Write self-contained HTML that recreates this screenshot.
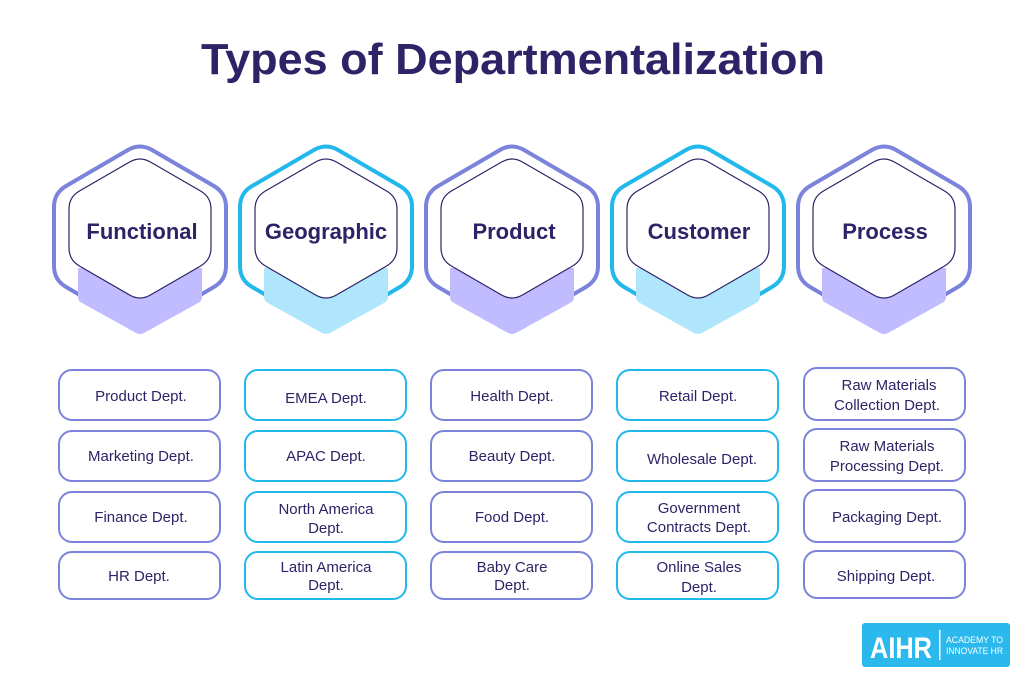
<!DOCTYPE html>
<html><head><meta charset="utf-8"><style>
html,body{margin:0;padding:0;background:#fff;}
svg{display:block;font-family:"Liberation Sans",sans-serif;}
.t{fill:#2d2366;font-size:15px;text-anchor:middle;}
.h{fill:#2d2366;font-size:22px;font-weight:bold;text-anchor:middle;}
</style></head><body>
<svg width="1024" height="680" viewBox="0 0 1024 680">
<text x="513" y="74" fill="#2d2366" font-size="44" font-weight="bold" text-anchor="middle" textLength="624" lengthAdjust="spacingAndGlyphs">Types of Departmentalization</text>
<defs>
<path id="outer" d="M12.1,150 L73.9,186 Q86,193 86,207 L86,266 Q86,280 73.9,287 L12.1,323 Q0,330 -12.1,323 L-73.9,287 Q-86,280 -86,266 L-86,207 Q-86,193 -73.9,186 L-12.1,150 Q0,143 12.1,150 Z"/>
<path id="inner" d="M10.4,162 L60.6,191 Q71,197 71,209 L71,248 Q71,260 60.6,266 L10.4,295 Q0,301 -10.4,295 L-60.6,266 Q-71,260 -71,248 L-71,209 Q-71,197 -60.6,191 L-10.4,162 Q0,156 10.4,162 Z"/>
<path id="shadow" d="M-62,268 L62,268 L62,297 Q62,301 58,303 L4,333 Q0,335 -4,333 L-58,303 Q-62,301 -62,297 Z"/>
<g id="hexP">
<use href="#outer" fill="none" stroke="#7b83db" stroke-width="4"/>
<use href="#shadow" fill="#c0bcff"/>
<use href="#inner" fill="#fff" stroke="#2d2366" stroke-width="1.2"/>
</g>
<g id="hexB">
<use href="#outer" fill="none" stroke="#22b8ec" stroke-width="4"/>
<use href="#shadow" fill="#b0e6fc"/>
<use href="#inner" fill="#fff" stroke="#2d2366" stroke-width="1.2"/>
</g>
</defs>
<use href="#hexP" x="140"/>
<use href="#hexB" x="326"/>
<use href="#hexP" x="512"/>
<use href="#hexB" x="698"/>
<use href="#hexP" x="884"/>
<text class="h" x="142" y="239">Functional</text>
<text class="h" x="326" y="239">Geographic</text>
<text class="h" x="514" y="239">Product</text>
<text class="h" x="699" y="239">Customer</text>
<text class="h" x="885" y="239">Process</text>

<g fill="#fff" stroke-width="2">
<g stroke="#7b83db">
<rect x="59" y="370" width="161" height="50" rx="13"/>
<rect x="59" y="431" width="161" height="50" rx="13"/>
<rect x="59" y="492" width="161" height="50" rx="13"/>
<rect x="59" y="552" width="161" height="47" rx="13"/>
<rect x="431" y="370" width="161" height="50" rx="13"/>
<rect x="431" y="431" width="161" height="50" rx="13"/>
<rect x="431" y="492" width="161" height="50" rx="13"/>
<rect x="431" y="552" width="161" height="47" rx="13"/>
<rect x="804" y="368" width="161" height="52" rx="13"/>
<rect x="804" y="429" width="161" height="52" rx="13"/>
<rect x="804" y="490" width="161" height="52" rx="13"/>
<rect x="804" y="551" width="161" height="47" rx="13"/>
</g>
<g stroke="#22b8ec">
<rect x="245" y="370" width="161" height="50" rx="13"/>
<rect x="245" y="431" width="161" height="50" rx="13"/>
<rect x="245" y="492" width="161" height="50" rx="13"/>
<rect x="245" y="552" width="161" height="47" rx="13"/>
<rect x="617" y="370" width="161" height="50" rx="13"/>
<rect x="617" y="431" width="161" height="50" rx="13"/>
<rect x="617" y="492" width="161" height="50" rx="13"/>
<rect x="617" y="552" width="161" height="47" rx="13"/>
</g>
</g>

<text class="t" x="141" y="401">Product Dept.</text>
<text class="t" x="141" y="461">Marketing Dept.</text>
<text class="t" x="141" y="522">Finance Dept.</text>
<text class="t" x="139" y="581">HR Dept.</text>

<text class="t" x="326" y="403">EMEA Dept.</text>
<text class="t" x="326" y="461">APAC Dept.</text>
<text class="t" x="326" y="514">North America</text>
<text class="t" x="326" y="533">Dept.</text>
<text class="t" x="326" y="572">Latin America</text>
<text class="t" x="326" y="590">Dept.</text>

<text class="t" x="512" y="401">Health Dept.</text>
<text class="t" x="512" y="461">Beauty Dept.</text>
<text class="t" x="512" y="522">Food Dept.</text>
<text class="t" x="512" y="572">Baby Care</text>
<text class="t" x="512" y="590">Dept.</text>

<text class="t" x="698" y="401">Retail Dept.</text>
<text class="t" x="702" y="464">Wholesale Dept.</text>
<text class="t" x="699" y="513">Government</text>
<text class="t" x="699" y="532">Contracts Dept.</text>
<text class="t" x="699" y="572">Online Sales</text>
<text class="t" x="699" y="592">Dept.</text>

<text class="t" x="889" y="390">Raw Materials</text>
<text class="t" x="887" y="410">Collection Dept.</text>
<text class="t" x="887" y="451">Raw Materials</text>
<text class="t" x="887" y="471">Processing Dept.</text>
<text class="t" x="887" y="522">Packaging Dept.</text>
<text class="t" x="886" y="581">Shipping Dept.</text>

<rect x="862" y="623" width="148" height="44" rx="3" fill="#2bb8ec"/>
<text x="901" y="658" fill="#fff" font-size="30" font-weight="bold" text-anchor="middle" textLength="62" lengthAdjust="spacingAndGlyphs">AIHR</text>
<rect x="939" y="630" width="1.5" height="30" fill="#fff"/>
<text x="946" y="643" fill="#fff" font-size="9" textLength="57" lengthAdjust="spacingAndGlyphs">ACADEMY TO</text>
<text x="946" y="654" fill="#fff" font-size="9" textLength="57" lengthAdjust="spacingAndGlyphs">INNOVATE HR</text>
</svg>
</body></html>
